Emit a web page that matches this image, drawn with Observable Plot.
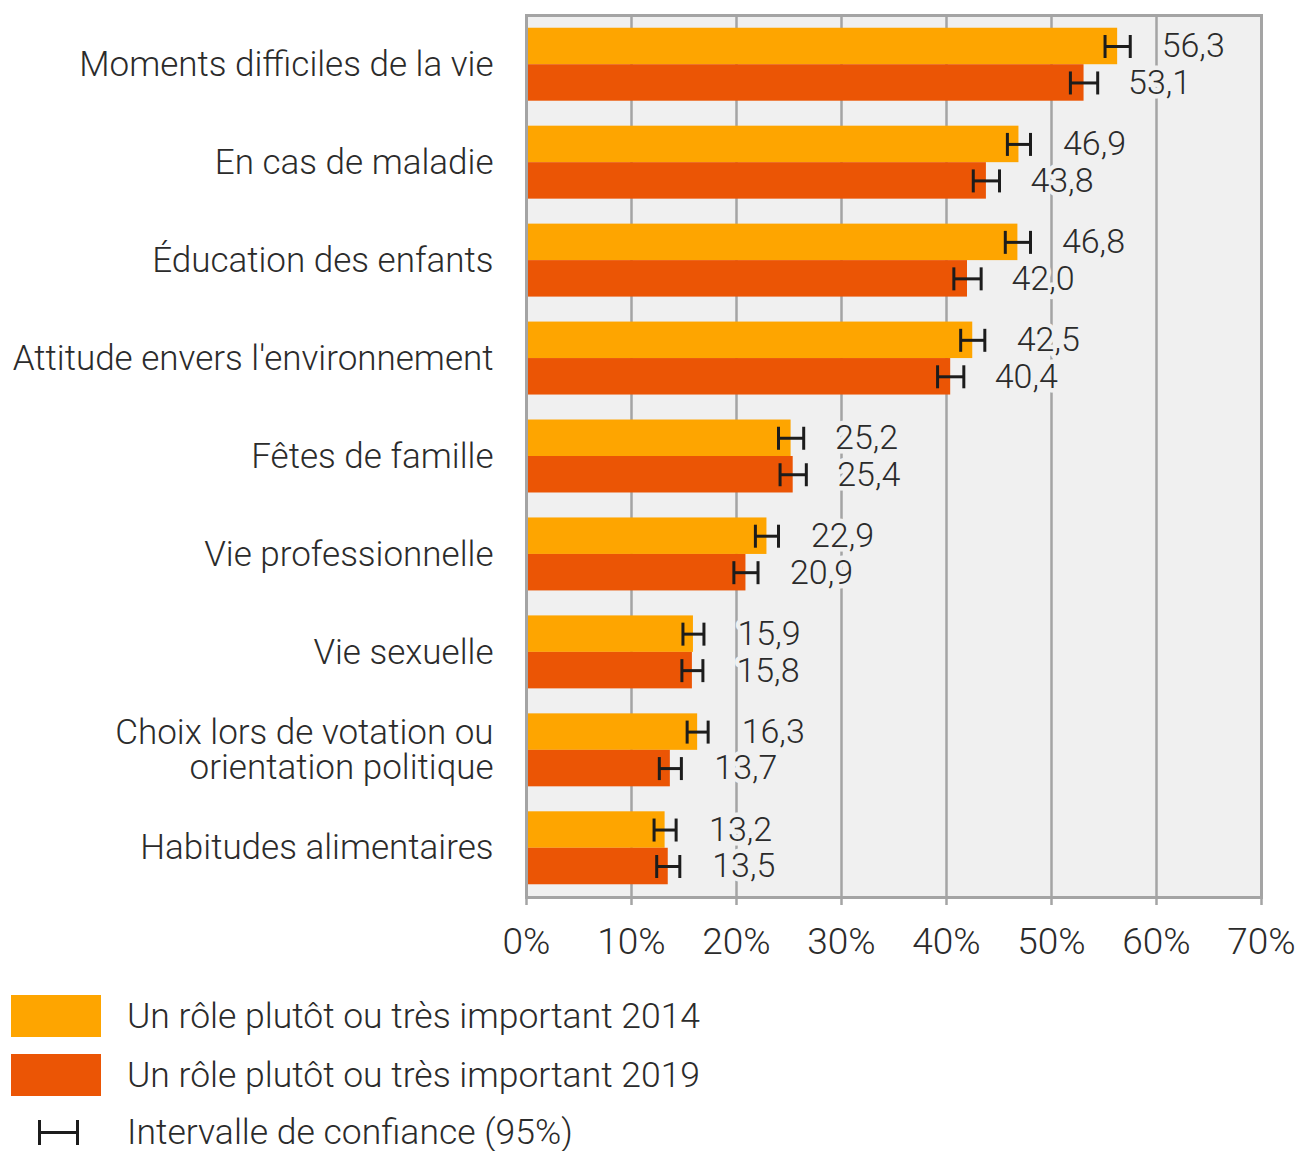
<!DOCTYPE html>
<html>
<head>
<meta charset="utf-8">
<script src="https://cdn.jsdelivr.net/npm/d3@7"></script>
<script src="https://cdn.jsdelivr.net/npm/@observablehq/plot@0.6"></script>
<style>
  body { margin: 0; background: #fff; font-family: Roboto, sans-serif; font-weight: 300; color: #2b2b2b; }
  #legend { margin-top: 20px; }
  .row { display: flex; align-items: center; height: 42px; margin-bottom: 17px; }
  .row.ci { height: 38px; margin-bottom: 0; }
  .sw { width: 90px; height: 42px; margin-left: 11px; margin-right: 26px; }
  .lab { font-size: 35.5px; line-height: 38px; }
</style>
</head>
<body>
<div id="chart"></div>
<div id="legend"></div>
<script>
const categories = [
  "Moments difficiles de la vie",
  "En cas de maladie",
  "Éducation des enfants",
  "Attitude envers l'environnement",
  "Fêtes de famille",
  "Vie professionnelle",
  "Vie sexuelle",
  "Choix lors de votation ou\norientation politique",
  "Habitudes alimentaires"
];
const values2014 = [56.3, 46.9, 46.8, 42.5, 25.2, 22.9, 15.9, 16.3, 13.2];
const values2019 = [53.1, 43.8, 42.0, 40.4, 25.4, 20.9, 15.8, 13.7, 13.5];
const ci2014 = [1.2, 1.1, 1.2, 1.15, 1.2, 1.1, 1.0, 1.0, 1.05];
const ci2019 = [1.3, 1.25, 1.3, 1.25, 1.25, 1.15, 1.0, 1.05, 1.1];
const xTicks = [0, 10, 20, 30, 40, 50, 60, 70];
const seriesLabels = ["Un rôle plutôt ou très important 2014", "Un rôle plutôt ou très important 2019"];
const ciLabel = "Intervalle de confiance (95%)";
const colors = ["#fea500", "#eb5505"];

const W = 1300, H = 975, mt = 15, mb = 78, ml = 526, mr = 39;
const pIn = 0.255, pOut = 0.13;
const inner = H - mt - mb;
const step = inner / (categories.length - pIn + 2 * pOut);
const bw = step * (1 - pIn);
const q = bw / 4;

function series(vals, cis) {
  return categories.map((c, i) => ({cat: c, value: vals[i], lo: vals[i] - cis[i], hi: vals[i] + cis[i]}));
}
const s14 = series(values2014, ci2014);
const s19 = series(values2019, ci2019);
const fmt = v => v.toFixed(1).replace(".", ",");

const vline = {
  draw(ctx, size) {
    const r = Math.sqrt(size / Math.PI);
    ctx.moveTo(0, -r);
    ctx.lineTo(0, r);
  }
};

function seriesMarks(data, color, sign) {
  const dy = sign * q;
  const inset = sign < 0 ? {insetBottom: bw / 2} : {insetTop: bw / 2};
  return [
    Plot.barX(data, {x: "value", y: "cat", fill: color, ...inset}),
    Plot.ruleY(data, {y: "cat", x1: "lo", x2: "hi", dy, stroke: "#1c1c1c", strokeWidth: 3}),
    Plot.dot(data, {x: "lo", y: "cat", dy, symbol: vline, r: 11.5, stroke: "#1c1c1c", strokeWidth: 3, fill: "none"}),
    Plot.dot(data, {x: "hi", y: "cat", dy, symbol: vline, r: 11.5, stroke: "#1c1c1c", strokeWidth: 3, fill: "none"}),
    Plot.text(data, {x: "value", y: "cat", text: d => fmt(d.value), dx: 44, dy, textAnchor: "start",
      fontSize: 34, fill: "#2b2b2b", stroke: "#f0f0f0", strokeWidth: 9})
  ];
}

const chart = Plot.plot({
  width: W,
  height: H,
  marginTop: mt,
  marginBottom: mb,
  marginLeft: ml,
  marginRight: mr,
  style: {fontFamily: "Roboto, sans-serif", fontWeight: 300, background: "#fff", color: "#2b2b2b"},
  x: {domain: [0, 70], axis: null},
  y: {type: "band", domain: categories, paddingInner: pIn, paddingOuter: pOut, round: false, axis: null},
  marks: [
    Plot.frame({fill: "#f0f0f0"}),
    Plot.ruleX(xTicks, {x: d => d, stroke: "#a4a4a4", strokeWidth: 2.5, insetBottom: -8}),
    ...seriesMarks(s14, colors[0], -1),
    ...seriesMarks(s19, colors[1], 1),
    Plot.frame({stroke: "#a4a4a4", strokeWidth: 3}),
    Plot.text(categories, {y: d => d, text: d => d, frameAnchor: "left", textAnchor: "end", dx: -33,
      fontSize: 35, lineHeight: 1.0, fill: "#2b2b2b"}),
    Plot.text(xTicks, {x: d => d, text: d => d + "%", frameAnchor: "bottom", dy: 56, fontSize: 37, fill: "#2b2b2b"})
  ]
});
document.getElementById("chart").appendChild(chart);

const legend = document.getElementById("legend");
seriesLabels.forEach((t, i) => {
  const row = document.createElement("div");
  row.className = "row";
  row.innerHTML = `<div class="sw" style="background:${colors[i]}"></div><div class="lab">${t}</div>`;
  legend.appendChild(row);
});
const ciRow = document.createElement("div");
ciRow.className = "row ci";
ciRow.innerHTML = `<svg width="90" height="38" style="margin-left:11px;margin-right:26px"><g stroke="#1c1c1c" stroke-width="3"><line x1="28.5" x2="28.5" y1="7" y2="32"/><line x1="66.5" x2="66.5" y1="7" y2="32"/><line x1="28.5" x2="66.5" y1="19.5" y2="19.5"/></g></svg><div class="lab">${ciLabel}</div>`;
legend.appendChild(ciRow);
</script>
</body>
</html>
